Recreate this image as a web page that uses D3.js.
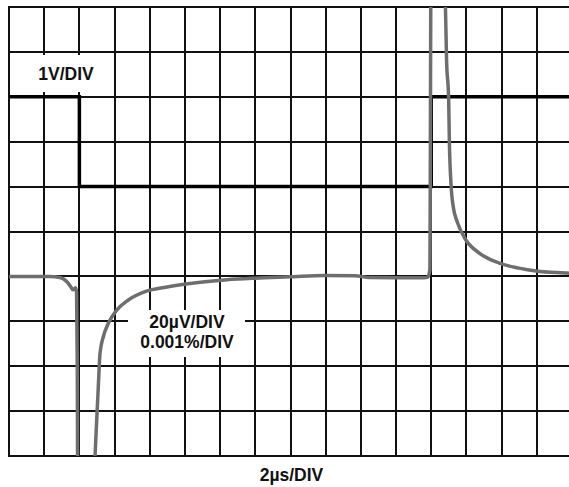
<!DOCTYPE html>
<html>
<head>
<meta charset="utf-8">
<script src="https://cdn.jsdelivr.net/npm/d3@7"></script>
<style>
  html, body { margin: 0; padding: 0; background: #fff; }
  svg { display: block; }
  text { font-family: "Liberation Sans", Arial, sans-serif; font-weight: bold; fill: #111; }
</style>
</head>
<body>
<svg id="scope" width="569" height="487"></svg>
<script>
// Horizontal divisions: 2µs each, 16 across the screen
const timeTicks = [0, 2, 4, 6, 8, 10, 12, 14, 16, 18, 20, 22, 24, 26, 28, 30, 32];
// Vertical divisions in volts (1V/DIV, screen centre = 0V)
const voltTicks = [-5, -4, -3, -2, -1, 0, 1, 2, 3, 4, 5];

// Input step (V) against time (µs)
const stepTime  = [0, 4, 4, 24, 24, 32];
const stepVolts = [3, 3, 1, 1, 3, 3];

// Settling error (µV, 20µV/DIV) against time (µs)
const errTime = [0, 2.3, 2.9, 3.24, 3.5, 3.64, 3.78, 3.84, 3.88, 3.92,
  4.72, 4.80, 4.888, 4.985, 5.076, 5.172, 5.36, 5.644, 6.122, 6.781, 7.73,
  9.055, 11.14, 12.4, 13.98, 15.97, 17.95, 19.66, 20.5, 22.0, 23.6, 23.8,
  23.92, 24.0,
  24.70, 24.78, 24.87, 24.99, 25.03, 25.12, 25.25, 25.50, 25.97, 26.73,
  27.87, 28.99, 29.95, 31.83, 32];
const errMicroV = [-20, -20, -20.5, -22, -24.5, -26, -25, -27, -60, -150,
  -150, -118, -100.3, -84, -69.1, -54.3, -46.9, -40.9, -35, -30.5, -26.8,
  -24.6, -22.4, -21.5, -20.8, -20.2, -19.6, -19.7, -20.5, -20.6, -20.6, -20.3,
  -17, 150,
  150, 110, 76.4, 58.6, 40, 21.6, 11.0, 3.8, -3.8, -9.6,
  -14.1, -16.3, -17.6, -18.6, -18.7];

const scrLeft = 9, scrRight = 572, scrTop = 7, scrBottom = 456;

const x  = d3.scaleLinear().domain([0, 32]).range([scrLeft, scrRight]);
const yV = d3.scaleLinear().domain([-5, 5]).range([scrBottom, scrTop]);
const yU = d3.scaleLinear().domain([-100, 100]).range([scrBottom, scrTop]);

const svg = d3.select("#scope");

svg.append("defs").append("clipPath").attr("id", "screen")
  .append("rect").attr("x", scrLeft).attr("y", scrTop)
  .attr("width", scrRight - scrLeft).attr("height", scrBottom - scrTop);

// Graticule
const grid = svg.append("g").attr("stroke", "#111").attr("stroke-width", 2).attr("shape-rendering", "crispEdges");
grid.selectAll("line.v").data(timeTicks).join("line").attr("class", "v")
  .attr("x1", d => x(d)).attr("x2", d => x(d)).attr("y1", scrTop).attr("y2", scrBottom);
grid.selectAll("line.h").data(voltTicks).join("line").attr("class", "h")
  .attr("x1", scrLeft).attr("x2", scrRight).attr("y1", d => yV(d)).attr("y2", d => yV(d));
grid.append("rect").attr("x", scrLeft).attr("y", scrTop)
  .attr("width", scrRight - scrLeft).attr("height", scrBottom - scrTop)
  .attr("fill", "none").attr("stroke-width", 2.5);

// Scale labels on white patches
svg.append("rect").attr("x", 28).attr("y", 55).attr("width", 76).attr("height", 37).attr("fill", "#fff");
svg.append("rect").attr("x", 128).attr("y", 310).attr("width", 117).attr("height", 47).attr("fill", "#fff");

svg.append("text").attr("x", 66).attr("y", 80).attr("text-anchor", "middle")
  .attr("font-size", 17.5).text("1V/DIV");
svg.append("text").attr("x", 187).attr("y", 328).attr("text-anchor", "middle")
  .attr("font-size", 17.5).text("20µV/DIV");
svg.append("text").attr("x", 187).attr("y", 348).attr("text-anchor", "middle")
  .attr("font-size", 17.5).text("0.001%/DIV");
svg.append("text").attr("x", 291.5).attr("y", 481).attr("text-anchor", "middle")
  .attr("font-size", 17.5).text("2µs/DIV");

const plot = svg.append("g").attr("clip-path", "url(#screen)");

// Input step trace
const stepLine = d3.line().x((d, i) => x(stepTime[i])).y((d, i) => yV(stepVolts[i]));
plot.append("path").datum(stepTime).attr("d", stepLine)
  .attr("fill", "none").attr("stroke", "#000").attr("stroke-width", 3.5);

// Settling error trace
const errLine = d3.line().curve(d3.curveMonotoneX)
  .x((d, i) => x(errTime[i])).y((d, i) => yU(errMicroV[i]));
plot.append("path").datum(errTime).attr("d", errLine)
  .attr("fill", "none").attr("stroke", "#6e6e6e").attr("stroke-width", 3.5)
  .attr("stroke-linejoin", "round");
</script>
</body>
</html>
